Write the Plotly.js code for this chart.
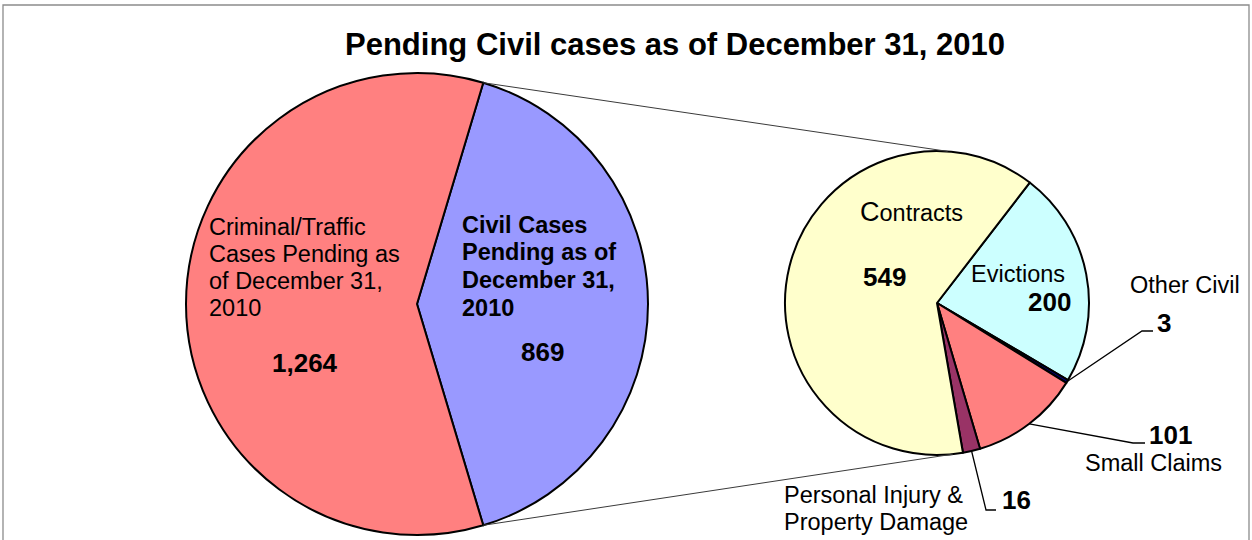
<!DOCTYPE html>
<html><head><meta charset="utf-8">
<script src="https://cdn.plot.ly/plotly-3.0.1.min.js"></script>
<style>html,body{margin:0;padding:0;background:#fff}</style>
</head><body><div id="chart" style="width:1252px;height:540px"></div>
<script>
// ---- data ----
const titleText = "Pending Civil cases as of December 31, 2010";
const overviewLabels = ["Civil Cases Pending as of December 31, 2010", "Criminal/Traffic Cases Pending as of December 31, 2010"];
const overviewValues = [869, 1264];
const civilLabels = ["Evictions", "Other Civil", "Small Claims", "Personal Injury & Property Damage", "Contracts"];
const civilValues = [200, 3, 101, 16, 549];

// ---- geometry / style ----
const W = 1252, H = 540;
const big = {cx: 417, cy: 304, r: 231};
const small = {cx: 937, cy: 303, r: 152, rot: 37.6};
const FONT = "Liberation Sans, Arial, sans-serif";
const LBL = 23.5, NUM = 26;
const px = x => x / W, py = y => 1 - y / H;
const fmt = v => v.toLocaleString('en-US');

const civilTotal = civilValues.reduce((a, b) => a + b, 0);
const overTotal = overviewValues.reduce((a, b) => a + b, 0);
const civilHalfDeg = overviewValues[0] / overTotal * 180;

function dom(g) {
  return {x: [px(g.cx - g.r), px(g.cx + g.r)], y: [py(g.cy + g.r), py(g.cy - g.r)]};
}
// point on the circle at angle measured clockwise from 12 o'clock
function pt(g, deg, rr) {
  const a = deg * Math.PI / 180, R = rr === undefined ? g.r : rr;
  return [g.cx + R * Math.sin(a), g.cy - R * Math.cos(a)];
}
// mid angle of slice i in small pie
function midAngle(i) {
  let s = 0; for (let k = 0; k < i; k++) s += civilValues[k];
  return small.rot + (s + civilValues[i] / 2) / civilTotal * 360;
}

const traces = [
  {type: 'pie', labels: overviewLabels, values: overviewValues, sort: false, direction: 'clockwise',
   rotation: 90 - civilHalfDeg, domain: dom(big), textinfo: 'none', hoverinfo: 'skip',
   marker: {colors: ['#9999FF', '#FF8080'], line: {color: '#000', width: 2}}, showlegend: false},
  {type: 'pie', labels: civilLabels, values: civilValues, sort: false, direction: 'clockwise',
   rotation: small.rot, domain: dom(small), textinfo: 'none', hoverinfo: 'skip',
   marker: {colors: ['#CCFFFF', '#000080', '#FF8080', '#993366', '#FFFFCC'], line: {color: '#000', width: 2}}, showlegend: false}
];

const anns = [];
function txt(x, y, text, o) {
  o = o || {};
  anns.push({xref: 'paper', yref: 'paper', x: px(x), y: py(y), text: text, showarrow: false,
    xanchor: o.xa || 'center', yanchor: 'middle', align: o.xa || 'center',
    font: {family: FONT, size: o.size || LBL, color: '#000'}});
}
function lines(x, y0, dy, arr, o) { arr.forEach((t, i) => txt(x, y0 + i * dy, t, o)); }
const num = v => '<b>' + fmt(v) + '</b>';

// left pie labels
lines(207, 227, 27, ["Criminal/Traffic", "Cases Pending as", "of December 31,", "2010"], {xa: 'left'});
txt(305, 363, num(overviewValues[1]), {size: NUM});
lines(460, 225, 27.5, ["<b>Civil Cases</b>", "<b>Pending as of</b>", "<b>December 31,</b>", "<b>2010</b>"], {xa: 'left'});
txt(542, 352, num(overviewValues[0]), {size: NUM});

// right pie labels
txt(911, 212, '<span style="font-size:27px">C</span>ontracts');
txt(884, 277, num(civilValues[4]), {size: NUM});
txt(1018, 274, civilLabels[0]);
txt(1049, 302, num(civilValues[0]), {size: NUM});
txt(1185, 285, civilLabels[1]);
txt(1164, 323, num(civilValues[1]), {size: NUM});
txt(1170, 435, num(civilValues[2]), {size: NUM});
txt(1153, 463, civilLabels[2]);
txt(1016, 500, num(civilValues[3]), {size: NUM});
lines(782, 495, 27, ["Personal Injury &", "Property Damage"], {xa: 'left'});

// shapes
const shapes = [];
function path(points, color, width) {
  const d = points.map((p, i) => (i ? 'L' : 'M') + px(p[0]) + ',' + py(p[1])).join(' ');
  shapes.push({type: 'path', xref: 'paper', yref: 'paper', path: d, line: {color: color, width: width}});
}
// frame
shapes.push({type: 'rect', xref: 'paper', yref: 'paper', x0: px(3), x1: px(1249), y0: py(560), y1: py(5),
  line: {color: '#8c8c8c', width: 1.3}, fillcolor: 'rgba(0,0,0,0)', layer: 'below'});
// connectors between pies
const topL = pt(big, 90 - civilHalfDeg), botL = pt(big, 90 + civilHalfDeg);
path([topL, pt(small, 4)], '#3a3a3a', 1);
path([botL, pt(small, 174)], '#3a3a3a', 1);
// leader lines
path([pt(small, midAngle(1)), [1142, 331], [1153, 331]], '#000', 1.3);
path([pt(small, midAngle(2)), [1133, 443], [1145, 443]], '#000', 1.3);
path([pt(small, midAngle(3)), [986, 510], [996, 510]], '#000', 1.3);

const layout = {
  width: W, height: H, autosize: false, margin: {l: 0, r: 0, t: 0, b: 0},
  paper_bgcolor: '#fff', plot_bgcolor: '#fff', showlegend: false,
  title: {text: '<b>' + titleText + '</b>', x: px(675), xref: 'paper', xanchor: 'center',
    y: py(44), yref: 'paper', yanchor: 'middle', font: {family: FONT, size: 31, color: '#000'}},
  annotations: anns, shapes: shapes
};
Plotly.newPlot('chart', traces, layout, {displayModeBar: false, staticPlot: true});
</script></body></html>
